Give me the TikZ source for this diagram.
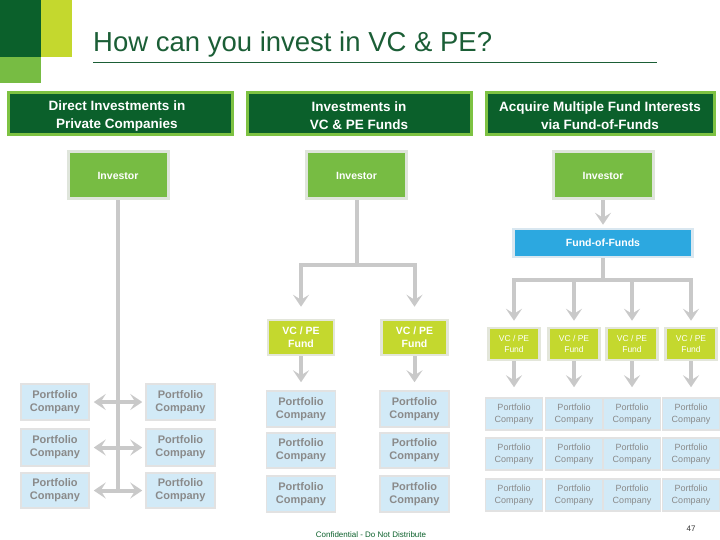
\documentclass[tikz,border=0pt]{standalone}
\usepackage{fontspec}
\setmainfont{Liberation Sans}
\usetikzlibrary{arrows.meta}
\definecolor{dkgreen}{HTML}{0B602B}
\definecolor{titlegreen}{HTML}{1B5E36}
\definecolor{hdrborder}{HTML}{7DC242}
\definecolor{invgreen}{HTML}{77BC43}
\definecolor{invborder}{HTML}{DFE5DB}
\definecolor{limec}{HTML}{C4D82E}
\definecolor{fundborder}{HTML}{E3E6DA}
\definecolor{pcblue}{HTML}{D2EAF7}
\definecolor{pcborder}{HTML}{E2E2E2}
\definecolor{pctext}{HTML}{8A8A8A}
\definecolor{fofblue}{HTML}{2CA8E0}
\definecolor{fofborder}{HTML}{D9E7F0}
\definecolor{conn}{HTML}{C9C9C9}
\begin{document}
\begin{tikzpicture}[x=1pt,y=-1pt,
  hdr/.style={draw=hdrborder, line width=3pt, fill=dkgreen, text=white, font=\fontsize{13.5}{18}\selectfont\bfseries, align=center, inner sep=0pt, minimum height=42pt},
  hdrtext/.style={text=white, font=\fontsize{13.5}{18}\selectfont\bfseries, align=center, inner sep=0pt},
  inv/.style={draw=invborder, line width=3pt, fill=invgreen, text=white, font=\fontsize{10.5}{13}\selectfont\bfseries, inner sep=0pt, minimum width=100pt, minimum height=47pt},
  fund/.style={draw=fundborder, line width=2.5pt, fill=limec, text=white, font=\fontsize{10.5}{13}\selectfont\bfseries, align=center, inner sep=0pt, minimum width=66pt, minimum height=35pt},
  sfund/.style={fund, font=\fontsize{8.5}{11}\selectfont, minimum width=51pt, minimum height=32pt},
  pc/.style={draw=pcborder, line width=1.5pt, fill=pcblue, text=pctext, font=\fontsize{11}{13}\selectfont\bfseries, align=center, inner sep=0pt, minimum width=69pt, minimum height=36pt},
  spc/.style={pc, font=\fontsize{9}{12}\selectfont, minimum width=57pt, minimum height=32pt},
  fof/.style={draw=fofborder, line width=2.5pt, fill=fofblue, text=white, font=\fontsize{10.5}{13}\selectfont\bfseries, inner sep=0pt, minimum width=179pt, minimum height=28pt},
  gline/.style={draw=conn, line width=4pt},
  garrow/.style={gline, -{Stealth[width=16pt,length=12pt,inset=5pt]}},
  gdarrow/.style={gline, {Stealth[width=16pt,length=12pt,inset=5pt]}-{Stealth[width=16pt,length=12pt,inset=5pt]}}
]
\useasboundingbox (0,0) rectangle (720,540);
% corner decoration
\fill[dkgreen] (0,0) rectangle (41,57);
\fill[limec] (41,0) rectangle (72,57);
\fill[invgreen] (0,57) rectangle (41,83);
% title
\node[anchor=base west, inner sep=0pt, text=titlegreen, font=\fontsize{27.5}{30}\selectfont] (title) at (93,52) {How can you invest in VC \& PE?};
\draw[titlegreen, line width=1pt] (93,63) -- (657,63);
% headers
\node[hdr, minimum width=224pt] (h1) at (120,114) {};
\node[hdr, minimum width=224pt] (h2) at (359,114) {};
\node[hdr, minimum width=228pt] (h3) at (600,114) {};
\node[hdrtext] (h1t) at (117,116) {Direct Investments in\\Private Companies};
\node[hdrtext] (h2t) at (359,116) {Investments in\\VC \& PE Funds};
\node[hdrtext] (h3t) at (600,116) {Acquire Multiple Fund Interests\\via Fund-of-Funds};
% investors
\node[inv] (inv1) at (118,175.5) {Investor};
\node[inv] (inv2) at (356.5,175.5) {Investor};
\node[inv] (inv3) at (603,175.5) {Investor};
% left column
\node[pc, minimum width=68pt] (pl1) at (55,402) {Portfolio\\Company};
\node[pc, minimum width=68pt, minimum height=37pt] (pl2) at (55,447.5) {Portfolio\\Company};
\node[pc, minimum width=68pt, minimum height=35pt] (pl3) at (55,490.5) {Portfolio\\Company};
\node[pc] (pr1) at (180.5,402) {Portfolio\\Company};
\node[pc, minimum height=37pt] (pr2) at (180.5,447.5) {Portfolio\\Company};
\node[pc, minimum height=35pt] (pr3) at (180.5,490.5) {Portfolio\\Company};
\coordinate (lb) at (118,492.5);
\draw[gline] (inv1.south) -- (lb);
\draw[gdarrow, shorten <=4pt, shorten >=3pt] (pl1.east) -- (pr1.west);
\draw[gdarrow, shorten <=4pt, shorten >=3pt] (pl2.east) -- (pr2.west);
\draw[gdarrow, shorten <=4pt, shorten >=3pt] (pl3.east) -- (pr3.west);
% middle column
\node[fund] (mf1) at (301,337.5) {VC / PE\\Fund};
\node[fund] (mf2) at (414.5,337.5) {VC / PE\\Fund};
\coordinate (mj) at (356.5,265);
\draw[gline] (inv2.south) -- (mj);
\draw[garrow, shorten >=12pt] (mj) -| (mf1.north);
\draw[garrow, shorten >=12pt] (mj) -| (mf2.north);
\node[pc] (ma1) at (301,409) {Portfolio\\Company};
\node[pc, minimum height=35pt] (ma2) at (301,450.5) {Portfolio\\Company};
\node[pc] (ma3) at (301,494) {Portfolio\\Company};
\node[pc] (mb1) at (414.5,409) {Portfolio\\Company};
\node[pc, minimum height=35pt] (mb2) at (414.5,450.5) {Portfolio\\Company};
\node[pc] (mb3) at (414.5,494) {Portfolio\\Company};
\draw[garrow, shorten >=8pt] (mf1.south) -- (ma1.north);
\draw[garrow, shorten >=8pt] (mf2.south) -- (mb1.north);
% right column
\node[fof] (fof) at (603,243) {Fund-of-Funds};
\draw[garrow, shorten >=3pt] (inv3.south) -- (fof.north);
\coordinate (rj) at (603,280);
\draw[gline] (fof.south) -- (rj);
\foreach \i/\x in {1/514,2/574,3/632,4/691}{
  \node[sfund] (sf\i) at (\x,344) {VC / PE\\Fund};
  \draw[garrow, shorten >=6pt] (rj) -| (sf\i.north);
  \node[spc] (sa\i) at (\x,414) {Portfolio\\Company};
  \node[spc] (sb\i) at (\x,454) {Portfolio\\Company};
  \node[spc] (sc\i) at (\x,495) {Portfolio\\Company};
  \draw[garrow, shorten >=10pt] (sf\i.south) -- (sa\i.north);
}
% footer
\node[text=dkgreen, font=\fontsize{8}{9}\selectfont, inner sep=0pt] (conf) at (371,535) {Confidential - Do Not Distribute};
\node[text=black!80, font=\fontsize{8}{9}\selectfont, inner sep=0pt] (pg) at (691,529) {47};
\end{tikzpicture}
\end{document}
